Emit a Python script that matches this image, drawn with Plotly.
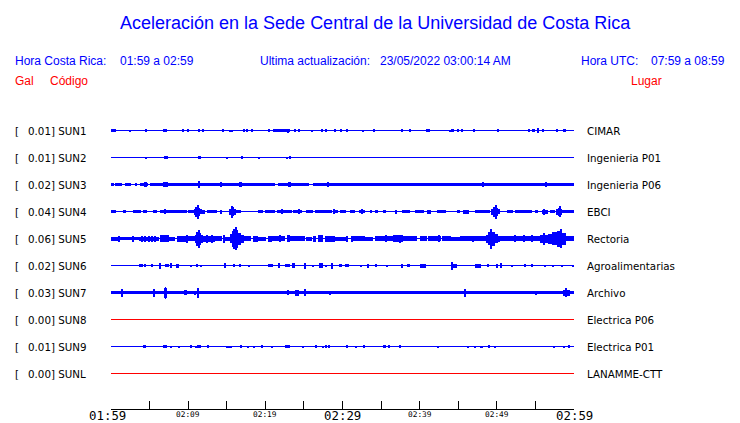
import plotly.graph_objects as go

# ---------------- data ----------------
TITLE = "Aceleración en la Sede Central de la Universidad de Costa Rica"
HORA_CR = "01:59 a 02:59"
HORA_UTC = "07:59 a 08:59"
ULTIMA = "23/05/2022 03:00:14 AM"

stations = ["SUN1", "SUN2", "SUN3", "SUN4", "SUN5", "SUN6", "SUN7", "SUN8", "SUN9", "SUNL"]
gal_max = [0.01, 0.01, 0.02, 0.04, 0.06, 0.02, 0.03, 0.00, 0.01, 0.00]
places = ["CIMAR", "Ingenieria P01", "Ingenieria P06", "EBCI", "Rectoria",
          "Agroalimentarias", "Archivo", "Electrica P06", "Electrica P01", "LANAMME-CTT"]
online = [True, True, True, True, True, True, True, False, True, False]

span_minutes = 60
tick_minutes = [0, 5, 10, 15, 20, 25, 30, 35, 40, 45, 50, 55, 60]
label_minutes = [0, 10, 20, 30, 40, 50, 60]
label_text = ["01:59", "02:09", "02:19", "02:29", "02:39", "02:49", "02:59"]

# envelope segments per station: (start minute, end minute, half amplitude in counts)
SUN1 = [(0.0, 0.7, 1.3), (2.4, 2.6, 0.9), (4.5, 4.7, 1.3), (6.8, 7.3, 1.3), (9.3, 9.5, 1.3),
        (9.9, 10.1, 1.3), (11.3, 11.5, 1.3), (11.9, 12.1, 1.3), (14.5, 14.7, 1.3), (15.3, 15.5, 0.9),
        (15.6, 15.8, 0.9), (17.2, 17.4, 1.3), (17.6, 17.8, 1.3), (18.2, 18.4, 1.3), (20.4, 20.6, 1.3),
        (21.0, 21.2, 1.3), (21.2, 23.2, 1.3), (22.9, 23.1, 2.0), (23.8, 24.0, 1.3), (24.3, 24.5, 1.3),
        (26.0, 26.2, 0.9), (27.3, 27.5, 1.3), (27.8, 28.0, 1.3), (29.0, 29.2, 1.3), (29.7, 29.95, 1.3),
        (30.5, 30.7, 1.3), (32.6, 32.8, 0.9), (34.0, 34.2, 1.3), (37.6, 37.8, 1.3), (38.7, 38.9, 1.3),
        (40.9, 41.1, 1.3), (41.2, 41.4, 1.3), (43.9, 44.1, 0.9), (44.1, 44.5, 1.3), (44.9, 45.1, 1.3),
        (45.4, 45.6, 1.3), (47.0, 47.2, 1.3), (50.1, 50.3, 1.3), (54.1, 54.3, 1.3), (54.5, 55.0, 1.3),
        (55.3, 55.5, 2.7), (55.9, 56.1, 1.3), (57.7, 57.9, 1.3), (58.7, 58.9, 1.3)]

SUN2 = [(4.5, 4.7, 1.0), (6.9, 7.1, 1.3), (7.2, 7.4, 1.3), (11.4, 11.6, 1.3), (15.0, 15.2, 0.8),
        (16.9, 17.1, 1.3), (19.1, 19.3, 0.8), (22.8, 23.0, 1.0), (23.1, 23.3, 1.3)]

SUN3 = [(0.0, 0.35, 1.7), (0.55, 1.4, 1.7), (1.8, 2.6, 1.8), (3.1, 3.4, 1.4), (3.8, 4.8, 1.8),
        (4.4, 4.6, 2.5), (5.1, 5.3, 1.4), (5.3, 6.7, 1.8), (6.7, 7.4, 2.5), (7.4, 21.3, 1.8),
        (11.3, 11.55, 3.5), (14.1, 14.4, 2.2), (16.7, 16.95, 2.3), (21.7, 25.6, 1.8), (22.9, 23.3, 2.5),
        (26.2, 60.0, 1.85), (28.1, 28.3, 2.2), (48.1, 48.3, 2.3), (56.3, 56.5, 2.8)]

SUN4 = [(0.0, 0.7, 1.5), (1.5, 1.9, 1.5), (2.9, 3.9, 1.3), (4.2, 4.35, 1.3), (4.5, 4.65, 1.3),
        (5.5, 6.0, 1.5), (6.4, 6.8, 1.2), (6.8, 9.8, 1.7), (6.9, 7.05, 2.5), (9.95, 10.8, 1.5),
        (10.8, 11.0, 3.0), (11.0, 11.2, 5.0), (11.2, 11.35, 7.0), (11.35, 11.55, 4.0), (11.55, 11.8, 2.5),
        (11.8, 12.2, 2.0), (12.4, 13.7, 1.5), (14.1, 14.4, 2.0), (15.4, 15.6, 3.0), (15.6, 15.75, 6.0),
        (15.75, 15.95, 4.5), (15.95, 16.1, 3.0), (16.1, 16.9, 1.7), (19.0, 19.7, 1.3), (20.0, 21.2, 1.5),
        (21.5, 22.0, 1.7), (22.1, 22.25, 2.5), (22.3, 23.4, 1.5), (23.6, 24.7, 1.5), (24.25, 24.4, 2.3),
        (25.3, 26.2, 1.3), (26.4, 28.6, 1.5), (28.8, 28.95, 2.5), (29.0, 29.4, 1.5), (29.65, 30.5, 1.4),
        (31.0, 31.6, 1.5), (32.2, 32.9, 1.5), (32.4, 32.55, 2.3), (33.5, 33.8, 1.5), (34.2, 34.6, 1.5),
        (35.3, 35.7, 1.5), (36.8, 37.1, 2.0), (37.7, 38.7, 1.3), (39.4, 40.5, 1.5), (41.0, 41.5, 2.0),
        (42.2, 43.4, 1.5), (44.8, 45.2, 1.5), (45.6, 46.4, 2.0), (47.2, 49.1, 1.5), (49.3, 49.6, 3.0),
        (49.6, 49.8, 5.0), (49.8, 50.0, 7.0), (50.0, 50.2, 4.0), (50.2, 50.4, 2.5), (51.3, 52.1, 1.5),
        (52.3, 54.5, 1.5), (54.9, 55.3, 1.5), (55.8, 56.6, 2.0), (56.1, 56.3, 3.0), (56.9, 57.5, 1.5),
        (57.7, 57.95, 3.0), (57.95, 58.15, 4.0), (58.15, 58.3, 5.5), (58.3, 58.5, 3.0), (58.5, 60.0, 1.5)]

SUN5 = [(0.0, 1.2, 2.0), (0.95, 1.1, 3.0), (1.2, 2.7, 1.5), (2.8, 2.95, 3.0), (2.95, 3.6, 1.7),
        (3.6, 6.2, 2.0), (3.95, 4.1, 3.0), (4.4, 4.55, 3.0), (4.85, 5.0, 3.0), (5.25, 5.4, 3.0),
        (5.65, 5.8, 3.0), (6.4, 7.5, 3.5), (7.5, 8.3, 2.0), (8.5, 9.8, 3.0), (9.75, 9.9, 4.0),
        (9.9, 10.9, 2.5), (10.9, 11.1, 4.0), (11.1, 11.3, 7.0), (11.3, 11.5, 9.0), (11.5, 11.7, 6.0),
        (11.7, 11.9, 4.0), (11.9, 13.5, 3.0), (12.4, 12.55, 4.0), (13.0, 13.15, 4.0), (13.5, 14.4, 2.5),
        (14.55, 14.7, 4.0), (14.7, 15.5, 2.0), (15.5, 15.7, 4.5), (15.7, 15.9, 8.0), (15.9, 16.1, 10.0),
        (16.1, 16.3, 11.5), (16.3, 16.5, 9.0), (16.5, 16.8, 6.0), (16.8, 17.2, 4.0), (17.2, 18.2, 2.5),
        (18.4, 19.1, 3.0), (19.1, 20.1, 2.0), (20.4, 20.8, 3.0), (20.8, 22.6, 2.5), (21.8, 21.95, 3.5),
        (22.8, 23.2, 3.5), (23.2, 25.2, 2.5), (25.3, 26.0, 2.0), (26.2, 26.6, 3.0), (26.85, 27.5, 3.5),
        (27.7, 29.0, 3.0), (29.0, 30.6, 2.0), (30.5, 30.65, 3.0), (31.15, 31.3, 3.0), (31.4, 32.9, 2.5),
        (32.9, 34.0, 2.0), (34.2, 36.6, 2.7), (35.6, 35.75, 3.5), (36.6, 37.9, 3.5), (37.4, 37.55, 4.0),
        (37.9, 39.6, 2.5), (40.0, 40.9, 2.5), (41.1, 42.8, 2.8), (42.5, 42.65, 3.5), (42.9, 44.1, 2.5),
        (44.1, 45.2, 2.0), (45.2, 48.6, 2.5), (46.9, 47.05, 3.0), (48.6, 48.9, 4.0), (48.9, 49.15, 6.5),
        (49.15, 49.4, 10.0), (49.4, 49.7, 7.0), (49.7, 50.1, 4.5), (50.1, 50.4, 3.0), (50.4, 51.7, 2.5),
        (51.7, 55.6, 2.7), (52.3, 52.45, 3.5), (53.4, 53.55, 3.5), (54.5, 54.65, 3.5), (55.6, 56.0, 4.0),
        (56.1, 56.3, 6.0), (56.3, 56.6, 4.0), (56.6, 57.2, 5.0), (57.2, 57.8, 6.5), (57.8, 58.2, 8.0),
        (58.2, 58.5, 9.5), (58.5, 59.0, 6.0), (59.0, 60.0, 2.5)]

SUN6 = [(3.6, 4.1, 1.2), (4.4, 4.55, 1.3), (5.3, 5.45, 1.5), (6.25, 6.4, 3.0), (7.0, 7.5, 1.5),
        (7.75, 7.9, 2.2), (8.55, 8.75, 2.0), (10.3, 10.45, 1.0), (11.05, 11.2, 1.5), (11.65, 11.8, 1.0),
        (14.6, 14.9, 2.5), (15.85, 16.0, 1.3), (16.7, 16.85, 1.3), (17.85, 18.0, 1.0), (20.4, 21.0, 1.5),
        (21.6, 21.9, 2.5), (22.5, 23.2, 1.5), (23.5, 23.9, 2.5), (25.05, 25.2, 3.0), (26.05, 26.2, 1.0),
        (26.9, 27.5, 2.5), (27.75, 27.9, 1.0), (28.55, 28.7, 3.0), (29.65, 29.9, 1.3), (30.3, 30.8, 1.3),
        (32.35, 32.5, 1.0), (33.25, 33.4, 2.0), (34.25, 34.4, 1.5), (35.65, 35.8, 1.0), (37.65, 37.8, 2.0),
        (38.3, 38.8, 1.5), (40.0, 40.8, 2.0), (44.15, 44.3, 4.0), (44.3, 44.8, 2.0), (47.2, 48.0, 2.0),
        (48.85, 49.0, 1.3), (49.95, 50.1, 2.0), (50.45, 50.6, 2.3), (51.85, 52.0, 1.0), (53.55, 53.7, 1.3),
        (54.55, 54.7, 1.3), (56.15, 56.3, 1.0), (57.25, 57.4, 1.0), (58.35, 58.5, 1.0), (59.8, 59.95, 1.0)]

SUN7 = [(0.0, 60.0, 1.85), (1.3, 1.5, 4.0), (5.5, 5.7, 4.0), (6.9, 7.2, 5.0), (7.0, 7.1, 6.0),
        (9.5, 9.8, 2.5), (10.85, 11.0, 2.0), (11.2, 11.4, 5.0), (22.9, 23.1, 2.3), (23.9, 24.3, 3.0),
        (25.1, 25.3, 3.5), (28.35, 28.5, 2.0), (45.8, 46.0, 4.0), (55.05, 55.2, 2.0), (58.6, 59.5, 3.0),
        (58.95, 59.15, 4.5)]

SUN8 = []

SUN9 = [(4.2, 4.35, 1.3), (4.4, 4.55, 1.3), (6.8, 7.2, 1.3), (7.75, 7.9, 1.0), (8.7, 8.85, 1.0),
        (10.25, 10.4, 1.3), (10.95, 11.1, 1.0), (11.2, 11.7, 1.3), (12.55, 12.7, 1.3), (14.95, 15.1, 1.0),
        (15.25, 15.4, 1.0), (15.55, 15.7, 1.0), (16.75, 16.9, 1.3), (17.65, 17.8, 1.0), (18.45, 18.6, 1.0),
        (19.45, 19.6, 1.3), (20.75, 20.9, 1.0), (22.5, 23.2, 1.5), (24.85, 25.0, 1.0), (26.45, 26.6, 1.3),
        (27.45, 27.6, 1.0), (27.75, 27.9, 1.3), (28.1, 28.4, 1.5), (30.55, 30.7, 1.3), (31.65, 31.8, 1.0),
        (32.75, 32.9, 1.3), (35.25, 35.4, 1.3), (35.45, 35.6, 1.3), (35.95, 36.1, 1.3), (37.4, 37.6, 1.3),
        (42.35, 42.5, 1.0), (46.15, 46.3, 1.0), (47.15, 47.3, 1.0), (47.85, 48.0, 1.0), (48.05, 48.2, 1.0),
        (48.95, 49.1, 1.3), (49.75, 49.9, 1.0), (57.35, 57.5, 1.0), (58.65, 58.8, 1.0), (59.35, 59.5, 1.3)]

SUNL = []

envelopes = [SUN1, SUN2, SUN3, SUN4, SUN5, SUN6, SUN7, SUN8, SUN9, SUNL]

# ---------------- layout constants (window pixel coordinates) ----------------
WIN_W, WIN_H = 740, 423
BODY = 8                       # default page margin around the figure
W, H = WIN_W - BODY, WIN_H - BODY
PLOT_LEFT, PLOT_RIGHT, PLOT_TOP, PLOT_BOTTOM = 111, 574, 115, 409
M_L, M_R = PLOT_LEFT - BODY, WIN_W - PLOT_RIGHT
M_T, M_B = PLOT_TOP - BODY, WIN_H - PLOT_BOTTOM
PLOT_W = PLOT_RIGHT - PLOT_LEFT
PLOT_H = PLOT_BOTTOM - PLOT_TOP
ROW_GAP = 27          # pixels between station rows
FIRST_ROW_PX = 130.5  # pixel centre of the first station row
BLUE = "#0000ff"
RED = "#ff0000"
HEAD_FONT = "Liberation Sans, Arial, sans-serif"
LABEL_FONT = "DejaVu Sans, sans-serif"
TICK_FONT = "DejaVu Sans Mono, monospace"


def pxx(px):
    return (px - PLOT_LEFT) / PLOT_W


def pxy(py):
    return (PLOT_BOTTOM - py) / PLOT_H


# y axis in pixel-like units: 1 unit = 1 px; row i sits at -ROW_GAP*i
y_top = FIRST_ROW_PX - PLOT_TOP
y_bottom = -(PLOT_BOTTOM - FIRST_ROW_PX)

fig = go.Figure()

for i, (st, env, on) in enumerate(zip(stations, envelopes, online)):
    row = -ROW_GAP * i
    color = BLUE if on else RED
    fig.add_trace(go.Scatter(
        x=[0, span_minutes], y=[row, row], mode="lines",
        line=dict(color=color, width=1), hoverinfo="skip", showlegend=False))
    if env:
        xs = [(a + b) / 2 for a, b, _ in env]
        ws = [b - a for a, b, _ in env]
        bases = [row - amp for _, _, amp in env]
        hs = [2 * amp for _, _, amp in env]
        fig.add_trace(go.Bar(
            x=xs, y=hs, base=bases, width=ws,
            marker=dict(color=color, line=dict(width=0)),
            hoverinfo="skip", showlegend=False))

ann = []


def add_text(text, px, py, size, color, font, xanchor="left", xref="paper", x=None, xshift=0):
    ann.append(dict(
        text=text, x=(pxx(px) if x is None else x), y=pxy(py), xref=xref, yref="paper",
        xanchor=xanchor, yanchor="middle", showarrow=False, xshift=xshift,
        font=dict(family=font, size=size, color=color),
        borderpad=0, borderwidth=0))


# header
add_text(TITLE, 375.5, 22.6, 18, BLUE, HEAD_FONT, xanchor="center")
add_text("Hora Costa Rica:", 15, 60.8, 12, BLUE, HEAD_FONT)
add_text(HORA_CR, 120, 60.8, 12, BLUE, HEAD_FONT)
add_text("Ultima actualización:", 260, 60.8, 12, BLUE, HEAD_FONT)
add_text(ULTIMA, 380, 60.8, 12, BLUE, HEAD_FONT)
add_text("Hora UTC:", 580.7, 60.8, 12, BLUE, HEAD_FONT)
add_text(HORA_UTC, 650.7, 60.8, 12, BLUE, HEAD_FONT)
add_text("Gal", 15, 80.5, 12, RED, HEAD_FONT)
add_text("Código", 50, 80.5, 12, RED, HEAD_FONT)
add_text("Lugar", 630.7, 80.5, 12, RED, HEAD_FONT)

# station labels
for i, (st, g, pl) in enumerate(zip(stations, gal_max, places)):
    py = FIRST_ROW_PX + ROW_GAP * i
    add_text("[", 15, py, 10.3, "black", LABEL_FONT)
    add_text(f"{g:.2f}] {st}", 27.7, py, 10.3, "black", LABEL_FONT)
    add_text(pl, 587.3, py, 10.3, "black", LABEL_FONT)

# time labels
for k, (m, lab) in enumerate(zip(label_minutes, label_text)):
    major = (m % 30 == 0)
    add_text(lab, 0, 415.8 if major else 414.5, 12.4 if major else 7.8, "black",
             TICK_FONT, xanchor="center", xref="x", x=m, xshift=(-4 if k == 0 else 0))

fig.update_layout(
    width=W, height=H,
    margin=dict(l=M_L, r=M_R, t=M_T, b=M_B, pad=0),
    paper_bgcolor="white", plot_bgcolor="white",
    barmode="overlay", bargap=0,
    showlegend=False,
    xaxis=dict(range=[0, span_minutes], tickmode="array", tickvals=tick_minutes,
               showticklabels=False, ticks="inside", ticklen=8, tickwidth=1, tickcolor="black",
               showline=True, linecolor="black", linewidth=1, showgrid=False, zeroline=False,
               fixedrange=True),
    yaxis=dict(range=[y_bottom, y_top], showticklabels=False, showgrid=False,
               zeroline=False, showline=False, ticks="", fixedrange=True),
    annotations=ann,
)

fig.write_html("out.html", config={"displayModeBar": False})
